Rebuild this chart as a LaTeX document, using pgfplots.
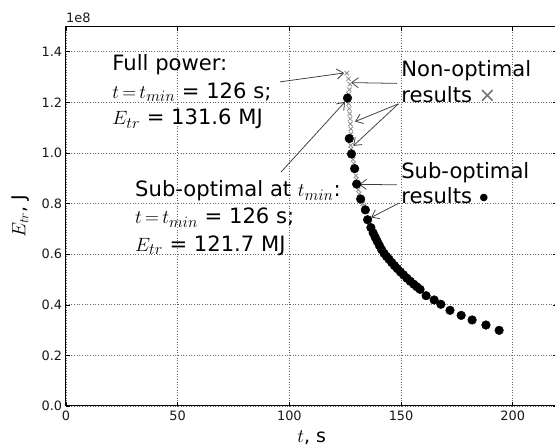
\documentclass[border=0pt]{standalone}
\usepackage{pgfplots}
\pgfplotsset{compat=1.18}
\usepackage{fontspec}
\setmainfont{DejaVu Sans}
\usetikzlibrary{arrows.meta}

\pgfplotstableread{
t E
126.0 1.217
126.8 1.057
127.8 0.996
129.2 0.938
130.1 0.877
131.9 0.818
134.0 0.775
135.0 0.736
136.5 0.705
137.5 0.684
138.4 0.667
139.3 0.651
140.3 0.634
141.3 0.618
142.4 0.603
143.5 0.591
144.6 0.580
145.8 0.567
147.0 0.555
148.3 0.543
149.7 0.530
151.1 0.518
152.6 0.505
154.1 0.493
155.7 0.481
157.1 0.471
158.5 0.461
161.2 0.436
164.8 0.419
167.8 0.402
171.9 0.378
176.9 0.358
181.8 0.340
188.0 0.320
193.9 0.299
}\suboptimal

\pgfplotstableread{
t E
125.7 1.315
126.5 1.293
127.1 1.272
126.8 1.250
126.4 1.232
126.5 1.195
126.8 1.175
127.0 1.155
127.2 1.135
127.3 1.115
127.5 1.095
127.6 1.075
127.4 1.030
127.6 1.015
128.5 0.975
128.8 0.958
129.8 0.910
130.0 0.895
130.8 0.855
131.2 0.838
132.8 0.800
133.3 0.790
}\nonoptimal

\begin{document}
\begin{tikzpicture}[
  arr/.style={black!75, line width=0.7pt, -{Straight Barb[length=6pt,width=9pt]}},
  big/.style={font=\fontsize{19}{22}\selectfont, inner sep=0pt}
]
\begin{axis}[
  name=ax,
  scale only axis, width=442.3pt, height=341.6pt,
  xmin=0, xmax=220, ymin=0, ymax=1.5,
  xtick={0,50,100,150,200},
  ytick={0,0.2,0.4,0.6,0.8,1.0,1.2,1.4},
  yticklabel style={/pgf/number format/fixed, /pgf/number format/fixed zerofill, /pgf/number format/precision=1},
  /pgf/number format/assume math mode=true,
  tick label style={font=\fontsize{11.6}{13}\selectfont, black!90},
  xticklabel style={yshift=-1pt},
  grid=major, major grid style={black!60, dotted, line width=0.6pt},
  tick align=inside, major tick length=4pt,
  tick style={black, line width=0.5pt},
  axis line style={line width=0.9pt},
  clip=false,
  xlabel={$t$, s}, ylabel={$E_{tr}$, J},
  label style={font=\fontsize{17}{20}\selectfont},
  xlabel style={at={(rel axis cs:0.5,0)}, anchor=center, yshift=-28.8pt},
  ylabel style={at={(rel axis cs:0,0.5)}, anchor=center, yshift=41pt},
]
\addplot[only marks, mark=x, mark size=2.8pt, black!45, line width=0.7pt] table {\nonoptimal};
\addplot[only marks, mark=*, mark size=3.9pt, black] table {\suboptimal};

\node[anchor=south west, inner sep=0pt, font=\fontsize{11.6}{13}\selectfont, black!90] at ([yshift=3pt]rel axis cs:0,1) {1e8};

\node[big, anchor=base west] at (axis cs:20.7,1.325) {Full power:};
\node[big, anchor=base west] at (axis cs:20.7,1.217) {$t\,{=}\,t_{min}$ = 126 s;};
\node[big, anchor=base west] at (axis cs:20.7,1.111) {$E_{tr}$ = 131.6 MJ};

\node[big, anchor=base west] at (axis cs:30.9,0.827) {Sub-optimal at $t_{min}$:};
\node[big, anchor=base west] at (axis cs:30.9,0.721) {$t\,{=}\,t_{min}$ = 126 s;};
\node[big, anchor=base west] at (axis cs:30.9,0.611) {$E_{tr}$ = 121.7 MJ};

\node[big, anchor=base west] at (axis cs:150,1.302) {Non-optimal};
\node[big, anchor=base west] at (axis cs:150,1.199) {results \textcolor{black!55}{×}};
\node[big, anchor=base west] at (axis cs:150,0.901) {Sub-optimal};
\node[big, anchor=base west] at (axis cs:150,0.802) {results\hspace{0.2em}{\fontsize{23}{23}\selectfont\raisebox{-3.8pt}{•}}};

\draw[arr] (axis cs:95.8,1.281) -- (axis cs:124.5,1.316);
\draw[arr] (axis cs:148.1,1.275) -- (axis cs:127.6,1.278);
\draw[arr] (axis cs:148.8,1.194) -- (axis cs:129.4,1.124);
\draw[arr] (axis cs:148.8,1.194) -- (axis cs:128.6,1.028);
\draw[arr] (axis cs:96.3,0.925) -- (axis cs:124.9,1.202);
\draw[arr] (axis cs:148.1,0.874) -- (axis cs:131.2,0.876);
\draw[arr] (axis cs:149.1,0.802) -- (axis cs:136.6,0.745);

\coordinate (O) at (rel axis cs:0,0);
\end{axis}
\pgfresetboundingbox
\path ([xshift=-59.4pt,yshift=-37.8pt]O) rectangle ++(499.5pt,403.2pt);
\end{tikzpicture}
\end{document}
